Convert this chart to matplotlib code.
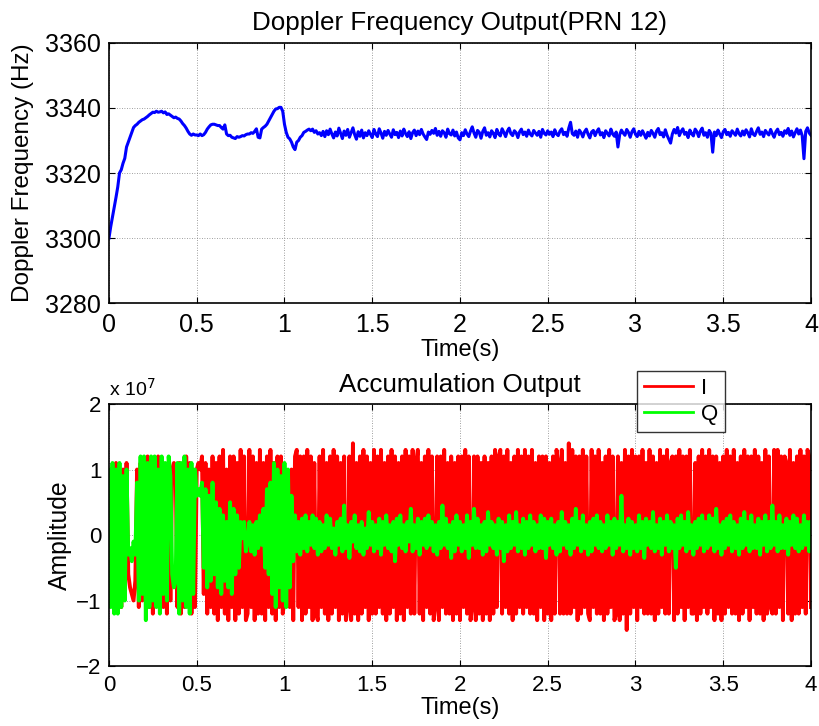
import numpy as np
import matplotlib
matplotlib.use("Agg")
import matplotlib.pyplot as plt

plt.rcParams['font.family'] = ['Liberation Sans', 'DejaVu Sans']

# ---------------- data ----------------
dt = 0.01  # sample spacing in seconds

# Doppler frequency (Hz), one value every 10 ms, t = 0 .. 4 s
doppler_hz = [
    3300.0, 3303.5, 3306.5, 3309.5, 3312.5, 3315.7, 3320.0, 3321.0, 3323.0, 3324.5,
    3328.0, 3329.5, 3331.0, 3332.5, 3334.0, 3334.6, 3335.0, 3335.6, 3336.0, 3336.4, 3336.6,
    3337.0, 3337.4, 3337.9, 3338.3, 3338.7, 3338.6, 3339.0, 3338.7, 3338.8, 3339.0,
    3338.5, 3338.8, 3338.0, 3338.2, 3337.8, 3337.4, 3337.0, 3337.2, 3336.8, 3336.6,
    3336.0, 3335.2, 3334.6, 3333.8, 3332.8, 3332.0, 3331.6, 3332.0, 3331.7, 3331.7,
    3331.5, 3332.0, 3331.5, 3331.8, 3332.5, 3333.5, 3334.2, 3334.8, 3335.0, 3335.0,
    3334.8, 3334.6, 3334.6, 3334.0, 3333.5, 3334.8, 3332.0, 3331.5, 3331.6, 3331.0,
    3330.8, 3330.6, 3331.2, 3331.0, 3331.2, 3331.5, 3331.4, 3331.8, 3332.0, 3332.0,
    3332.4, 3332.2, 3332.8, 3333.6, 3331.0, 3330.8, 3333.5, 3334.0, 3334.4, 3335.0,
    3336.0, 3337.0, 3338.0, 3339.0, 3339.7, 3339.8, 3340.2, 3340.2, 3339.0, 3335.0,
    3332.5, 3331.0, 3330.5, 3329.5, 3328.0, 3327.2, 3329.5, 3330.0, 3331.0, 3331.5,
    3332.5, 3332.8, 3333.2, 3333.5, 3333.0, 3333.5, 3332.5, 3333.0, 3332.0, 3332.4,
    3331.5, 3332.8, 3331.2, 3333.0, 3331.8, 3333.5, 3332.0, 3330.8, 3332.6, 3331.4,
    3333.8, 3332.2, 3330.6, 3332.9, 3331.6, 3333.4, 3331.0, 3332.5, 3333.9, 3331.8,
    3330.4, 3332.7, 3331.3, 3333.2, 3330.8, 3332.4, 3331.5, 3333.0, 3331.9, 3330.9,
    3333.4, 3332.0, 3331.2, 3333.6, 3332.3, 3330.7, 3332.8, 3331.6, 3333.1, 3332.0,
    3331.0, 3333.3, 3331.8, 3332.5, 3330.9, 3332.9, 3331.4, 3333.5, 3332.1, 3331.2,
    3332.7, 3330.6, 3332.4, 3333.2, 3331.5, 3332.9, 3331.8, 3333.4, 3332.0, 3331.1,
    3330.3, 3332.6, 3331.9, 3333.1, 3332.2, 3333.7, 3331.6, 3332.8, 3331.3, 3333.0,
    3332.4, 3331.0, 3333.5, 3332.1, 3331.7, 3333.2, 3331.4, 3332.6, 3330.8, 3330.2,
    3332.4, 3331.5, 3333.3, 3332.0, 3331.2, 3332.9, 3334.2, 3332.3, 3331.0, 3333.1,
    3332.5, 3330.7, 3332.8, 3333.9, 3331.6, 3332.4, 3331.1, 3333.0, 3332.2, 3330.9,
    3333.4, 3332.0, 3331.4, 3333.6, 3332.5, 3331.2, 3332.9, 3333.8, 3332.1, 3331.5,
    3333.0, 3332.4, 3330.9, 3332.7, 3333.5, 3331.8, 3332.6, 3331.3, 3333.2, 3332.0,
    3331.4, 3333.1, 3332.3, 3331.6, 3332.8, 3331.0, 3333.4, 3332.2, 3331.7, 3333.0,
    3331.9, 3332.6, 3331.2, 3333.3, 3332.0, 3331.5, 3332.9, 3333.6, 3331.8, 3332.5,
    3331.3, 3333.8, 3335.6, 3332.1, 3331.6, 3332.9, 3331.0, 3333.2, 3332.4, 3331.1,
    3332.7, 3333.5, 3331.9, 3330.8, 3332.6, 3333.1, 3331.5, 3332.8, 3333.6, 3331.7,
    3332.4, 3330.9, 3333.0, 3332.2, 3331.4, 3333.5, 3332.0, 3331.3, 3332.6, 3328.0,
    3331.8, 3333.2, 3332.3, 3331.6, 3333.4, 3332.5, 3331.0, 3332.7, 3333.6, 3331.9,
    3331.2, 3332.8, 3331.6, 3333.0, 3331.9, 3330.7, 3332.5, 3331.4, 3333.1, 3332.2,
    3331.0, 3332.9, 3333.7, 3331.8, 3332.4, 3331.1, 3333.3, 3331.6, 3330.4, 3329.2,
    3332.0, 3333.4, 3332.3, 3334.0, 3331.5, 3332.8, 3333.6, 3331.9, 3332.5, 3330.9,
    3333.2, 3332.1, 3331.4, 3333.5, 3332.7, 3331.2, 3332.9, 3333.8, 3331.6, 3332.4,
    3331.0, 3333.1, 3332.2, 3326.4, 3332.6, 3331.5, 3333.2, 3332.0, 3330.9, 3332.7,
    3333.4, 3331.8, 3332.5, 3331.3, 3333.0, 3332.3, 3331.6, 3333.5, 3332.1, 3331.4,
    3332.9, 3331.7, 3333.3, 3332.4, 3331.1, 3333.6, 3332.0, 3331.5, 3332.8, 3333.9,
    3331.9, 3332.6, 3331.2, 3333.1, 3332.3, 3331.7, 3333.4, 3332.1, 3331.0, 3332.7,
    3333.5, 3331.8, 3332.5, 3331.3, 3333.0, 3332.2, 3333.7, 3331.6, 3332.9, 3331.1,
    3332.4, 3333.6, 3332.0, 3333.2, 3331.5, 3324.4, 3332.8, 3333.9, 3332.3, 3331.6,
]

# In-phase accumulation (units of 1e6), one value every 10 ms
acc_i = [
    9, -10, 10, -11, 11, -9, 10, -11, 10, -8, 11, -6, -8, -9, -10, -7, 10, -11, 11, -10,
    11, -10, 12, -11, 10, -12, 11, -10, 12, -9, 11, -11, 10, -12, 11, -10, 10, 11, 10, -11,
    11, -12, 10, -11, 12, -10, 11, -12, 10, -11, 10, 11, 10, 12, -9, 11, -12, 10, -11, 12,
    -12, 11, -13, 12, -11, 13, -12, 10, -13, 12, -11, 12, -13, 11, -12, 13, -11, 12, -13, -12,
    13, -11, 12, -13, 11, -12, 13, -12, 11, -13, 12, -11, 13, -12, 11, -13, 12, -11, 12, -12,
    -10, -8, -9, -11, 10, -13, 12, 13, -11, 12, -13, 12, -12, 13, -11, 12, -13, 11, -12, -13,
    12, -11, 13, -12, 11, -13, 12, -12, 13, -11, 12, -13, 11, -12, 12, -13, -11, 12, -13, 14,
    -12, 11, -13, 12, -12, 13, -11, 12, -13, 11, -12, 13, -12, 12, -11, 13, -12, 11, -13, 12,
    -12, 13, -11, 12, -13, 11, -12, 12, -13, 13, -11, 12, -12, 13, -12, 11, 13, -12, 11, -13,
    12, -11, 13, -12, 12, -13, -11, 12, -13, 12, -11, 13, -12, 11, -12, 12, -13, 11, -12, 12,
    -13, 12, -11, 13, -12, 12, -13, -11, 12, -13, 12, -12, 11, -13, 12, -12, 11, -13, 12, -12,
    13, -11, 12, 13, -12, 12, -11, 13, -12, 11, -13, 12, -12, 13, -11, 12, -12, 13, -11, 12,
    -12, 13, -12, 11, -13, 12, -11, 12, -13, 12, -12, 11, -13, 12, -12, 13, 11, -12, 13, -12,
    11, -12, 14, -12, 13, -11, 12, -13, 12, -12, 13, -11, 12, -12, -13, 13, -11, 12, -12, 13,
    -12, 11, -13, 12, -12, 13, -11, 12, -13, -12, 12, -13, 11, -12, 13, -14.5, 12, -12, 13, -11,
    12, -13, 12, -11, 13, -12, 11, -12, 13, -12, 12, -13, 11, -12, 13, -11, 12, -12, 13, -12,
    11, 12, -13, 12, -12, 13, -11, 12, -13, 12, -11, 13, -12, -12, 11, -13, 12, -12, 13, -11,
    12, -12, 13, -11, 12, -13, 12, -12, 11, -13, 12, -12, 13, -11, 12, -12, 13, -12, 11, -13,
    12, -12, 13, -11, 12, -13, 12, -11, 13, -12, 12, -12, 11, -13, 13, -12, 12, -11, -12, 13,
    -12, 13, -11, 12, -13, 12, 11, -12, 13, -13, 11, -12, 12, -12, 13, -11, 12, -12, 13, 12,
    -11,
]

# Quadrature accumulation (units of 1e6), one value every 10 ms
acc_q = [
    10, -11, 11, -12, 10, -12, 11, -11, 9, -10, 10, -3, -2, -4, -1, -3, 8, -10, 12, -9,
    12, -13, 11, -11, 12, -10, 12, -11, 10, -12, 12, -9, 11, -10, 12, 9, -6, -8, -7, 11,
    -12, 11, -10, 12, -11, 10, -12, 11, -9, 10, 6, 7, 6, 8, -5, 7, -8, 6, -7, 8,
    -6, 5, -8, 4, -9, 3, -7, 2, -8, 5, -9, 4, -6, 3, -5, 2, -0.5, 2, -2.5, -1,
    2, -2.5, 1.5, -3, 2, -2, 3, -1.5, 4, -5, 7, -6, 8, -9, 11, -11, 10, -8, 9, -10,
    11, -11, 10, -8, 6, -4, 3, -2.5, 2, -3, 2.5, -2, 3, -2.5, 2, -1.5, 3, -2, 2.5, -3,
    2, -2.5, 1.5, -2, 3, -1.5, 2.5, -2, 1, -3, 2, -1.5, 2.5, -2.5, 4.5, -2, 1.5, -3.5, 2, -1,
    3, -2, 1.5, -2.5, 2, -3, 1, -2, 3.5, -1.5, 2, -2.5, 1.5, -2, 2.5, -3, 2, -1.5, 3, -2,
    1.5, -2.5, 2, -4, 2.5, -1.5, 3, -2, 1.5, -2.5, 2, -1, 4, -2.5, 1.5, -2, 2.5, -3, 2, -1.5,
    2.5, -2, 3, -1.5, 2, -2.5, 1.5, -3, 2, -2, 4.5, -1.5, 2.5, -2, 1.5, -3.5, 2, -2.5, 3, -1.5,
    2, -2.5, 1.5, -2, 3, -3.5, 2, -1.5, 4, -2, 2.5, -2, 1.5, -3, 2, -2.5, 3.5, -1.5, 2, -2,
    1.5, -3, 2.5, -2, 2, -4, 1.5, -2.5, 3, -2, 2, -1.5, 3.5, -2.5, 1.5, -2, 2.5, -3, 2, -2,
    3, -1.5, 2, -2.5, 1.5, -2, 3, -2, 2.5, -3.5, 2, -1.5, 2.5, -2, 1.5, -3, 2, -2.5, 3.5, -1.5,
    2, -2, 1.5, -3, 2.5, -2, 4, -1.5, 2, -2.5, 3, -2, 1.5, -3, 2, -2.5, 2.5, -1.5, 3, -2,
    2, -2.5, 1.5, -2, 3, -1.5, 2, -3, 2.5, -2, 2, -1.5, 6, -2.5, 1.5, -2, 2.5, -3, 2, -2,
    1.5, -2.5, 3, -2, 2, -3.5, 2.5, -1.5, 2, -2, 3.5, -2.5, 1.5, -2, 2.5, -3, 2, -1.5, 3, -2.5,
    2, -2, 1.5, -5, 2.5, -2, 3, -1.5, 2, -2.5, 3.5, -2, 1.5, -3, 2, -2, 2.5, -1.5, 3, -2.5,
    2, -2, 3, -1.5, 2.5, -2.5, 4, -2, 1.5, -3, 2, -2, 2.5, -1.5, 3, -2.5, 2, -2, 1.5, -3,
    2.5, -2, 3.5, -1.5, 2, -2.5, 3, -2, 1.5, -2, 2.5, -3, 2, -1.5, 3, -2.5, 2, -2, 4.5, -1.5,
    2, -2.5, 3, -2, 1.5, -2, 2.5, -3, 2, -1.5, 3, -2, 2.5, -2.5, 1.5, -2, 3, -1.5, 2, -2.5,
    2,
]

x_ticks = [0, 0.5, 1, 1.5, 2, 2.5, 3, 3.5, 4]
x_tick_labels = ['0', '0.5', '1', '1.5', '2', '2.5', '3', '3.5', '4']
top_y_ticks = [3280, 3300, 3320, 3340, 3360]
bottom_y_ticks = [-2, -1, 0, 1, 2]

title_top = 'Doppler Frequency Output(PRN 12)'
title_bottom = 'Accumulation Output'

# ---------------- plot ----------------
t_dop = np.arange(len(doppler_hz)) * dt
t_acc = np.arange(len(acc_i)) * dt
i_scaled = np.array(acc_i) / 10.0   # in units of 1e7
q_scaled = np.array(acc_q) / 10.0

fig = plt.figure(figsize=(8.2, 7.26), dpi=100)
ax1 = fig.add_axes([0.1329, 0.5826, 0.8561, 0.3582])
ax2 = fig.add_axes([0.1329, 0.0826, 0.8561, 0.3609])

grid_kw = dict(color='#808080', linestyle=(0, (1, 2)), linewidth=0.6)

def style(ax, size, xpad, ypad):
    ax.set_xlim(0, 4)
    ax.set_xticks(x_ticks)
    ax.set_xticklabels(x_tick_labels)
    ax.tick_params(direction='in', top=True, right=True, length=4, width=0.8,
                   labelsize=size)
    ax.tick_params(axis='x', pad=xpad)
    ax.tick_params(axis='y', pad=ypad)
    ax.grid(True, **grid_kw)
    for s in ax.spines.values():
        s.set_linewidth(1.2)

ax1.plot(t_dop, doppler_hz, color='#0000ff', linewidth=2.2)
ax1.set_ylim(3280, 3360)
ax1.set_yticks(top_y_ticks)
style(ax1, 18, 7.5, 5.5)
ax1.set_title(title_top, fontsize=18.7, pad=9)
ax1.set_xlabel('Time(s)', fontsize=17, labelpad=1)
ax1.set_ylabel('Doppler Frequency (Hz)', fontsize=17.5)
ax1.yaxis.set_label_coords(-0.107, 0.5)

lI, = ax2.plot(t_acc, i_scaled, color='#ff0000', linewidth=2.8, label='I')
lQ, = ax2.plot(t_acc, q_scaled, color='#00ff00', linewidth=2.8, label='Q')
ax2.set_ylim(-2, 2)
ax2.set_yticks(bottom_y_ticks)
style(ax2, 16, 6.5, 5.5)
ax2.set_title(title_bottom, fontsize=18.7, pad=9)
ax2.set_xlabel('Time(s)', fontsize=17, labelpad=1)
ax2.set_ylabel('Amplitude', fontsize=17.8)
ax2.yaxis.set_label_coords(-0.053, 0.5)
ax2.text(0.0, 1.015, r'x 10$^{7}$', transform=ax2.transAxes, fontsize=14,
         ha='left', va='bottom')

leg = fig.legend(handles=[lI, lQ], loc='upper left',
                 bbox_to_anchor=(637 / 820, 1 - 371 / 726), fontsize=16,
                 frameon=True, fancybox=False, edgecolor='black',
                 handlelength=2.2, borderpad=0.3, labelspacing=0.25,
                 handletextpad=0.4, borderaxespad=0)
leg.get_frame().set_linewidth(1.0)
for h in leg.get_lines():
    h.set_linewidth(2.0)

fig.savefig('out.png', dpi=100)
